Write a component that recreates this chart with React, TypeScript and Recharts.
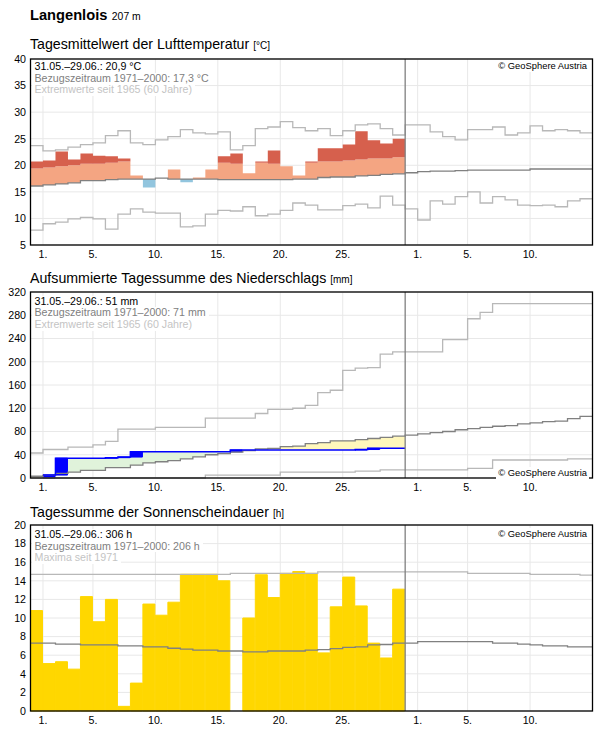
import {
  ComposedChart,
  CartesianGrid,
  XAxis,
  YAxis,
  Bar,
  Area,
  Line,
  ReferenceLine,
} from 'recharts';
import type { ReactNode } from 'react';

// tick positions count days from the left edge (0 = 31.05., 30 = end of 29.06.)
const dayTicks = [1, 5, 10, 15, 20, 25, 31, 35, 40];
const dayLabels = ['1.', '5.', '10.', '15.', '20.', '25.', '1.', '5.', '10.'];
const tempTicks = [5, 10, 15, 20, 25, 30, 35, 40];
const rainTicks = [0, 40, 80, 120, 160, 200, 240, 280, 320];
const sunTicks = [0, 2, 4, 6, 8, 10, 12, 14, 16, 18, 20];

const tempObs = [
  20.7, 20.9, 22.6, 21.1, 22.2, 21.8, 21.7, 21.3, 18.1, 15.8, 17.6, 19.2, 16.8, 17.7, 19.2,
  21.7, 22.2, 18.5, 20.7, 22.8, 19.8, 18.1, 20.7, 23.2, 23.2, 23.9, 26.4, 24.7, 24.1, 25.0,
];
// top of the light band, above it the bar turns dark red
const tempBand = [
  19.4, 19.6, 19.8, 20.0, 20.3, 20.3, 20.5, 20.7, 20.7, 20.7, 20.8, 20.7, 20.6, 20.6, 20.6,
  20.5, 20.3, 20.4, 20.5, 20.3, 20.3, 20.4, 20.5, 20.7, 20.7, 20.9, 21.1, 21.3, 21.3, 21.5,
];
const tempClim = [
  16.1, 16.3, 16.5, 16.7, 17.1, 17.1, 17.3, 17.4, 17.4, 17.4, 17.6, 17.4, 17.4, 17.4, 17.4,
  17.3, 17.3, 17.3, 17.3, 17.3, 17.3, 17.4, 17.4, 17.7, 17.8, 17.8, 18.0, 18.1, 18.3, 18.4,
  18.6, 18.8, 18.9, 18.9, 19.0, 19.1, 19.1, 19.1, 19.1, 19.1, 19.3, 19.3, 19.3, 19.3, 19.3,
];
const tempMax = [
  23.7, 22.7, 22.9, 23.4, 23.9, 24.2, 25.6, 26.5, 24.2, 23.9, 24.8, 25.4, 26.7, 26.1, 25.9,
  26.3, 22.9, 23.7, 26.9, 27.2, 28.2, 27.1, 26.5, 26.9, 25.6, 26.5, 27.6, 27.8, 26.9, 25.7,
  27.6, 27.6, 26.3, 25.4, 24.8, 26.7, 26.7, 27.2, 25.7, 26.1, 27.4, 26.5, 26.7, 26.5, 26.1,
];
const tempMin = [
  7.8, 9.0, 9.3, 9.9, 10.2, 9.9, 8.0, 10.8, 11.8, 11.2, 11.0, 11.0, 8.4, 8.6, 10.8,
  11.5, 11.4, 12.2, 10.5, 10.8, 11.5, 12.9, 12.5, 11.6, 11.6, 12.4, 12.7, 12.0, 14.2, 12.5,
  11.8, 9.7, 13.3, 12.7, 14.1, 15.0, 12.9, 14.1, 13.5, 12.5, 12.4, 12.5, 12.2, 13.3, 13.7,
];

const rainObs = [
  0, 5, 34, 34, 34, 34, 35, 36, 45, 45, 45, 45, 45, 45, 45,
  45, 48, 48, 48, 48, 48, 48, 48, 48, 48, 48, 49, 51, 51, 51,
];
const rainClim = [
  3, 5, 8, 10, 13, 13, 18, 18, 22, 26, 28, 30, 33, 36.5, 40,
  42, 44.5, 47, 50, 51, 54, 55, 59, 61, 64, 64, 66, 68, 70, 72,
  73.7, 76, 78, 80, 83, 85, 87, 89, 90, 93, 95, 97, 98, 102, 106,
];
const rainMax = [
  43, 49, 49, 53, 53, 57, 63, 84, 84, 84, 87, 87, 87, 87, 103,
  103, 103, 103, 111, 118, 118, 120, 125, 147, 151, 185, 189, 190, 213, 217,
  217, 217, 217, 238, 238, 274, 285, 300, 300, 300, 300, 300, 300, 300, 300,
];
const rainMin = [
  0, 0, 0, 0, 0, 0, 0, 0, 0, 0, 0, 0, 0, 0, 5,
  5, 5, 5, 5, 5, 10, 10, 10, 10, 10, 10, 12, 12, 14, 14,
  14, 14, 14, 14, 14, 16.5, 16.5, 31, 31, 31, 31, 31, 31, 33, 33,
];

const sunObs = [
  10.8, 5.1, 5.3, 4.5, 12.3, 9.6, 12.0, 0.5, 3.0, 11.5, 10.3, 11.7, 14.7, 14.7, 14.7,
  14.0, 0, 10.0, 14.65, 12.2, 14.8, 15.0, 14.8, 6.25, 11.2, 14.4, 11.3, 7.3, 5.7, 13.1,
];
const sunClim = [
  7.3, 7.3, 7.2, 7.2, 7.1, 7.1, 7.1, 7.0, 7.0, 6.9, 6.9, 6.75, 6.65, 6.55, 6.55,
  6.45, 6.45, 6.35, 6.35, 6.45, 6.45, 6.45, 6.55, 6.6, 6.7, 6.85, 6.9, 7.1, 7.15, 7.3,
  7.3, 7.45, 7.45, 7.45, 7.45, 7.45, 7.45, 7.3, 7.3, 7.2, 7.1, 7.0, 7.0, 6.9, 6.9,
];
const sunMax = [
  14.7, 14.7, 14.7, 14.7, 14.7, 14.7, 14.7, 14.7, 14.7, 14.7, 14.7, 14.7, 14.7, 14.7, 14.7,
  14.7, 14.8, 14.8, 14.8, 14.8, 14.8, 14.8, 14.8, 14.95, 14.95, 14.95, 14.95, 14.95, 14.95, 14.95,
  14.95, 14.95, 14.95, 14.95, 14.95, 14.8, 14.8, 14.8, 14.8, 14.8, 14.7, 14.7, 14.7, 14.7, 14.6,
];

const LAST_OBS = 30;
const DAYS = 45;

// last value is repeated at the closing edge so stepAfter draws the final step
const edge = (arr: number[], i: number) => arr[Math.min(i, arr.length - 1)];
const obsAt = (arr: number[], i: number) => (i <= LAST_OBS ? edge(arr, i) : null);

const rows = Array.from({ length: DAYS + 1 }, (_, i) => i);

const tempData = rows.map((i) => {
  const day = obsAt(tempObs, i);
  const clim = edge(tempClim, i);
  const band = edge(tempBand, i);
  return {
    x: i,
    clim,
    max: edge(tempMax, i),
    min: edge(tempMin, i),
    warm: day !== null ? [clim, Math.max(clim, Math.min(day, band))] : null,
    hot: day !== null ? [band, Math.max(day, band)] : null,
    cold: day !== null ? [Math.min(day, clim), clim] : null,
  };
});

const rainData = rows.map((i) => {
  const cum = obsAt(rainObs, i);
  const clim = edge(rainClim, i);
  const prev = i > 0 && i < LAST_OBS ? rainObs[i - 1] : 0;
  return {
    x: i,
    mid: i + 0.5,
    clim,
    max: edge(rainMax, i),
    min: edge(rainMin, i),
    // no blue line while the sum is still zero
    cum: i === 0 ? null : cum,
    surplus: cum !== null ? [clim, Math.max(clim, cum)] : null,
    deficit: cum !== null ? [Math.min(clim, cum), clim] : null,
    daily: i < LAST_OBS && rainObs[i] > prev ? [prev, rainObs[i]] : null,
  };
});

const sunData = rows.map((i) => ({
  x: i,
  mid: i + 0.5,
  clim: edge(sunClim, i),
  max: edge(sunMax, i),
  sun: i < LAST_OBS ? sunObs[i] : null,
}));

const FONT = '"Liberation Sans", Arial, sans-serif';

type PanelProps = {
  data: object[];
  top: number;
  domain: [number, number];
  ticks: number[];
  children: ReactNode;
};

const Panel = ({ data, top, domain, ticks, children }: PanelProps) => (
  <div style={{ position: 'absolute', left: 0, top }}>
    <ComposedChart
      width={596}
      height={216}
      data={data}
      barCategoryGap={0}
      margin={{ top: 10, right: 3.5, bottom: 0, left: 0 }}
    >
      <CartesianGrid stroke="#e8e8e8" strokeWidth={1} />
      <XAxis
        dataKey="x"
        type="number"
        domain={[0, DAYS]}
        ticks={dayTicks}
        interval={0}
        height={20}
        axisLine={false}
        tickLine={false}
        tickSize={0}
        tickMargin={5}
        tick={{ fontSize: 10.67, fill: '#000', fontFamily: FONT }}
        tickFormatter={(v: number) => dayLabels[dayTicks.indexOf(v)]}
      />
      <XAxis xAxisId="bars" dataKey="mid" type="number" domain={[0, DAYS]} allowDataOverflow hide />
      <YAxis
        type="number"
        width={30.5}
        domain={domain}
        ticks={ticks}
        interval={0}
        axisLine={false}
        tickLine={false}
        tickSize={0}
        tickMargin={4.5}
        tick={{ fontSize: 10.67, fill: '#000', fontFamily: FONT }}
      />
      {children}
      <ReferenceLine x={LAST_OBS} stroke="#808080" strokeWidth={1.3} />
    </ComposedChart>
    {/* frame on top of the series so nothing lying on the edge shows over it */}
    <svg width={596} height={216} style={{ position: 'absolute', left: 0, top: 0, pointerEvents: 'none' }}>
      <rect x={30.5} y={10} width={562} height={186} fill="none" stroke="#000" strokeWidth={1.3} />
    </svg>
  </div>
);

const stepLine = (key: string, color: string, width = 1.3) => (
  <Line
    key={key}
    dataKey={key}
    type="stepAfter"
    stroke={color}
    strokeWidth={width}
    dot={false}
    activeDot={false}
    isAnimationActive={false}
  />
);

const stepArea = (key: string, color: string) => (
  <Area
    key={key}
    dataKey={key}
    type="stepAfter"
    fill={color}
    fillOpacity={1}
    stroke="none"
    dot={false}
    activeDot={false}
    isAnimationActive={false}
  />
);

// stroke in the bar colour closes the hairline gaps between neighbours
const dayBar = (key: string, color: string) => (
  <Bar key={key} xAxisId="bars" dataKey={key} fill={color} stroke={color} strokeWidth={1} isAnimationActive={false} />
);

const Info = ({ top, lines }: { top: number; lines: string[] }) => (
  <div style={{ position: 'absolute', left: 31.5, top, fontSize: 10.67, lineHeight: '11.7px' }}>
    {lines.map((t, i) => (
      <div key={t} style={{ width: 'fit-content', padding: '0 3px', background: '#fff', color: ['#000', '#808080', '#c4c4c4'][i] }}>
        {t}
      </div>
    ))}
  </div>
);

const Copyright = ({ top }: { top: number }) => (
  <div style={{ position: 'absolute', right: 7, top, fontSize: 9.4, lineHeight: '12px', background: '#fff', padding: '0 2px' }}>
    © GeoSphere Austria
  </div>
);

const Heading = ({ top, text, unit }: { top: number; text: string; unit: string }) => (
  <div style={{ position: 'absolute', left: 30, top, fontSize: 14.2, lineHeight: '17px', whiteSpace: 'nowrap' }}>
    {text} <span style={{ fontSize: 10 }}>[{unit}]</span>
  </div>
);

export default function App() {
  return (
    <div style={{ position: 'absolute', left: 0, top: 0, width: 596, height: 729, overflow: 'hidden', fontFamily: FONT, background: '#fff' }}>
      <div style={{ position: 'absolute', left: 30, top: 6, lineHeight: '18px', whiteSpace: 'nowrap' }}>
        <b style={{ fontSize: 14.67 }}>Langenlois</b> <span style={{ fontSize: 10.4 }}>207 m</span>
      </div>

      <Heading top={36} text="Tagesmittelwert der Lufttemperatur" unit="°C" />
      <Panel data={tempData} top={48.7} domain={[5, 40]} ticks={tempTicks}>
        {stepArea('warm', '#f4a582')}
        {stepArea('hot', '#d6604d')}
        {stepArea('cold', '#92c5de')}
        {stepLine('max', '#b8b8b8')}
        {stepLine('min', '#b8b8b8')}
        {stepLine('clim', '#808080')}
      </Panel>
      <Info top={61} lines={['31.05.–29.06.: 20,9 °C', 'Bezugszeitraum 1971–2000: 17,3 °C', 'Extremwerte seit 1965 (60 Jahre)']} />
      <Copyright top={60} />

      <Heading top={270} text="Aufsummierte Tagessumme des Niederschlags" unit="mm" />
      <Panel data={rainData} top={281.9} domain={[0, 320]} ticks={rainTicks}>
        {stepArea('surplus', '#e0f3db')}
        {stepArea('deficit', '#fff7bc')}
        {dayBar('daily', '#0000ff')}
        {stepLine('max', '#b8b8b8')}
        {stepLine('min', '#b8b8b8')}
        {stepLine('clim', '#808080')}
        {stepLine('cum', '#0000ff', 1.5)}
      </Panel>
      <Info top={295.5} lines={['31.05.–29.06.: 51 mm', 'Bezugszeitraum 1971–2000: 71 mm', 'Extremwerte seit 1965 (60 Jahre)']} />
      <Copyright top={467} />

      <Heading top={504} text="Tagessumme der Sonnenscheindauer" unit="h" />
      <Panel data={sunData} top={515.3} domain={[0, 20]} ticks={sunTicks}>
        {dayBar('sun', '#ffd700')}
        {stepLine('max', '#b8b8b8')}
        {stepLine('clim', '#808080')}
      </Panel>
      <Info top={529} lines={['31.05.–29.06.: 306 h', 'Bezugszeitraum 1971–2000: 206 h', 'Maxima seit 1971']} />
      <Copyright top={528} />
    </div>
  );
}
